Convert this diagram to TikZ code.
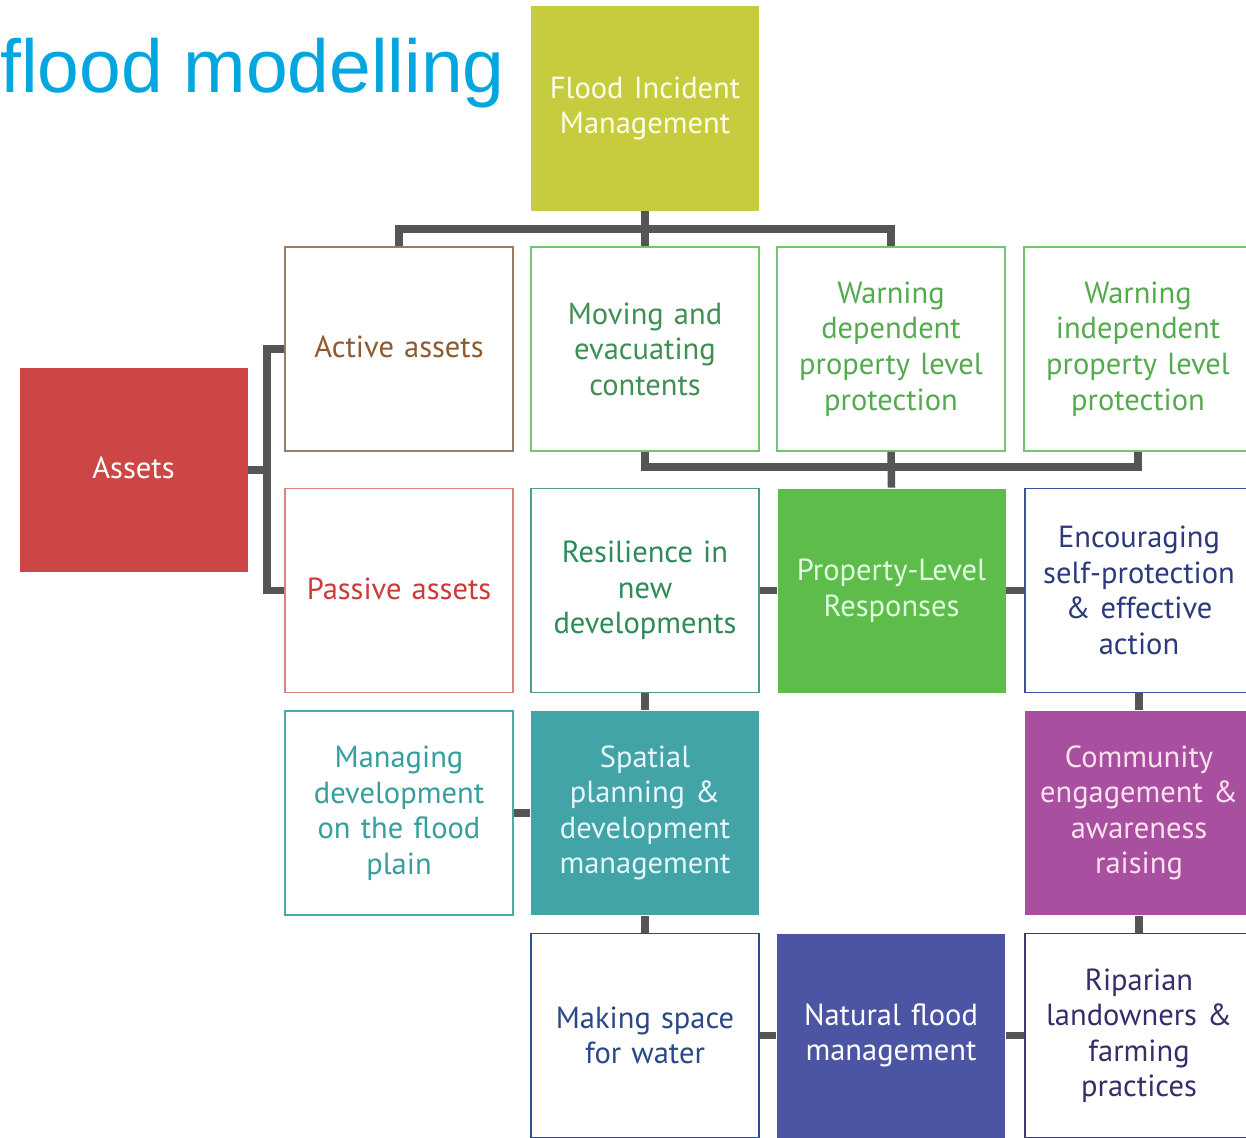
\documentclass[tikz,border=0pt]{standalone}
\usepackage{fontspec}
\setmainfont{PT Sans}
\newfontfamily\titlefont{Liberation Sans}
\definecolor{titleblue}{HTML}{03A6DF}
\definecolor{conncol}{HTML}{555555}
\definecolor{fimfill}{HTML}{C6CC3E}
\definecolor{assetred}{HTML}{CD4646}
\definecolor{activeline}{HTML}{9C7A64}
\definecolor{activetext}{HTML}{8E5A30}
\definecolor{greenline}{HTML}{74C472}
\definecolor{greentext}{HTML}{55AA50}
\definecolor{movingtext}{HTML}{3F8F52}
\definecolor{passiveline}{HTML}{DC8080}
\definecolor{passivetext}{HTML}{CC3A3A}
\definecolor{resilline}{HTML}{4E9E80}
\definecolor{resiltext}{HTML}{2E8A58}
\definecolor{propfill}{HTML}{5EBC4A}
\definecolor{encline}{HTML}{4050A0}
\definecolor{enctext}{HTML}{2C3A7C}
\definecolor{manline}{HTML}{4AAAAA}
\definecolor{mantext}{HTML}{369E9E}
\definecolor{spatialfill}{HTML}{42A4A6}
\definecolor{commfill}{HTML}{A8509F}
\definecolor{makeline}{HTML}{2E4C8C}
\definecolor{maketext}{HTML}{2A4886}
\definecolor{natfill}{HTML}{4C54A4}
\definecolor{ripline}{HTML}{3C3C7C}
\definecolor{riptext}{HTML}{3A2C6C}
\begin{document}
\begin{tikzpicture}[x=1pt,y=-1pt,
  box/.style={rectangle, minimum width=228pt, minimum height=204pt, inner sep=0pt,
    line width=1.8pt, align=center, text width=226pt, font=\fontsize{30.5}{35.5}\selectfont},
  conn/.style={draw=conncol, line width=7.5pt}]
\useasboundingbox (0,0) rectangle (1246,1137);
\fill[white] (0,0) rectangle (1246,1137);

\node[anchor=base west, inner sep=0pt, text=titleblue, font=\titlefont\fontsize{75}{80}\selectfont] (title) at (0,93) {flood modelling};

% boxes
\node[box, fill=fimfill, text=white!92!yellow] (fim) at (645,108.5) {Flood Incident\\Management};
\node[box, fill=assetred, text=white] (assets) at (133.5,470) {\raisebox{4pt}{Assets}};

\node[box, draw=activeline, text=activetext] (active) at (399,349) {\raisebox{5pt}{Active assets}};
\node[box, draw=greenline, text=movingtext] (moving) at (645,349) {Moving and\\evacuating\\contents\\[-10pt]};
\node[box, draw=greenline, text=greentext] (warndep) at (891,349) {Warning\\dependent\\property level\\protection};
\node[box, draw=greenline, text=greentext] (warnind) at (1138,349) {Warning\\independent\\property level\\protection};

\node[box, draw=passiveline, text=passivetext] (passive) at (399,590.5) {\raisebox{4pt}{Passive assets}};
\node[box, draw=resilline, text=resiltext] (resil) at (645,590.5) {Resilience in\\new\\developments};
\node[box, fill=propfill, text=white!88!green] (prop) at (891.5,590.5) {Property-Level\\Responses};
\node[box, draw=encline, text=enctext] (encour) at (1139,590.5) {Encouraging\\self-protection\\\& effective\\action};

\node[box, draw=manline, text=mantext] (managing) at (399,813) {Managing\\development\\on the flood\\plain};
\node[box, fill=spatialfill, text=white!90!cyan] (spatial) at (645,813) {Spatial\\planning \&\\development\\management};
\node[box, fill=commfill, text=white!88!magenta] (community) at (1139,813) {Community\\engagement \&\\awareness\\raising};

\node[box, draw=makeline, text=maketext] (making) at (645,1035.5) {Making space\\for water};
\node[box, fill=natfill, text=white] (natural) at (891,1035.5) {Natural flood\\management};
\node[box, draw=ripline, text=riptext] (riparian) at (1139,1035.5) {Riparian\\landowners \&\\farming\\practices};

% bus points
\coordinate (bus1) at (645,229);
\coordinate (bus2) at (267,470);
\coordinate (bus3) at (891.5,467);

% connectors
\draw[conn] (fim.south) -- (moving.north);
\draw[conn] (active.north) |- (bus1) -| (warndep.north);
\draw[conn] (assets.east) -- (bus2);
\draw[conn] (active.west) -| (bus2) |- (passive.west);
\draw[conn] (moving.south) |- (bus3) -| (warnind.south);
\draw[conn] (warndep.south) -- (prop.north);
\draw[conn] (resil.east) -- (prop.west);
\draw[conn] (prop.east) -- (encour.west);
\draw[conn] (resil.south) -- (spatial.north);
\draw[conn] (managing.east) -- (spatial.west);
\draw[conn] (spatial.south) -- (making.north);
\draw[conn] (encour.south) -- (community.north);
\draw[conn] (community.south) -- (riparian.north);
\draw[conn] (making.east) -- (natural.west);
\draw[conn] (natural.east) -- (riparian.west);
\end{tikzpicture}
\end{document}
